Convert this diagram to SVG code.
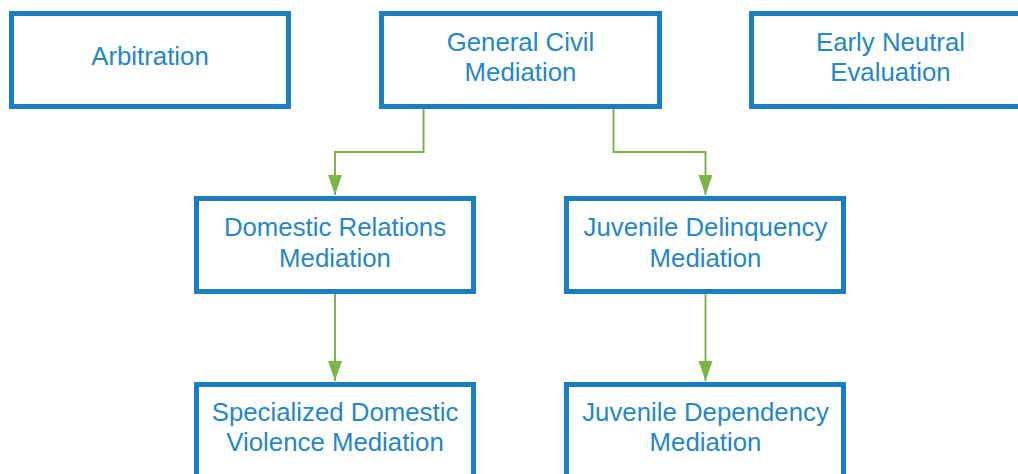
<svg xmlns="http://www.w3.org/2000/svg" width="1018" height="474" viewBox="0 0 1018 474">
<style>
.box{fill:#ffffff;stroke:#1a7dc0;stroke-width:5}
.lbl{font-family:"Liberation Sans",Arial,sans-serif;font-size:25.8px;fill:#2586c8;text-anchor:middle}
.con{fill:none;stroke:#7ab648;stroke-width:2}
</style>
<defs>
<marker id="ah" markerUnits="userSpaceOnUse" markerWidth="22" markerHeight="16" refX="20" refY="7" orient="auto">
<path d="M0,0 L20,7 L0,14 Z" fill="#7ab648"/>
</marker>
</defs>
<rect width="1018" height="474" fill="#ffffff"/>
<g id="connectors">
<path class="con" d="M423.5,109 V152 H335 V195" marker-end="url(#ah)"/>
<path class="con" d="M613.5,109 V152 H705.5 V195" marker-end="url(#ah)"/>
<path class="con" d="M335,294 V381" marker-end="url(#ah)"/>
<path class="con" d="M705.5,294 V381" marker-end="url(#ah)"/>
</g>
<g id="arbitration">
<rect class="box" x="11.5" y="13.5" width="277" height="93"/>
<text class="lbl" x="150" y="65">Arbitration</text>
</g>
<g id="general-civil">
<rect class="box" x="381.5" y="13.5" width="278" height="93"/>
<text class="lbl" x="520.5" y="51">General Civil</text>
<text class="lbl" x="520.5" y="81">Mediation</text>
</g>
<g id="early-neutral">
<rect class="box" x="751.5" y="13.5" width="277" height="93"/>
<text class="lbl" x="890.5" y="51">Early Neutral</text>
<text class="lbl" x="890.5" y="81">Evaluation</text>
</g>
<g id="domestic-relations">
<rect class="box" x="196.5" y="198.5" width="277" height="93"/>
<text class="lbl" x="335" y="236">Domestic Relations</text>
<text class="lbl" x="335" y="266.5">Mediation</text>
</g>
<g id="juvenile-delinquency">
<rect class="box" x="566.5" y="198.5" width="277" height="93"/>
<text class="lbl" x="705.5" y="236">Juvenile Delinquency</text>
<text class="lbl" x="705.5" y="266.5">Mediation</text>
</g>
<g id="specialized-dv">
<rect class="box" x="196.5" y="384.5" width="277" height="93"/>
<text class="lbl" x="335" y="421">Specialized Domestic</text>
<text class="lbl" x="335" y="451">Violence Mediation</text>
</g>
<g id="juvenile-dependency">
<rect class="box" x="566.5" y="384.5" width="277" height="93"/>
<text class="lbl" x="705.5" y="421">Juvenile Dependency</text>
<text class="lbl" x="705.5" y="451">Mediation</text>
</g>
</svg>
